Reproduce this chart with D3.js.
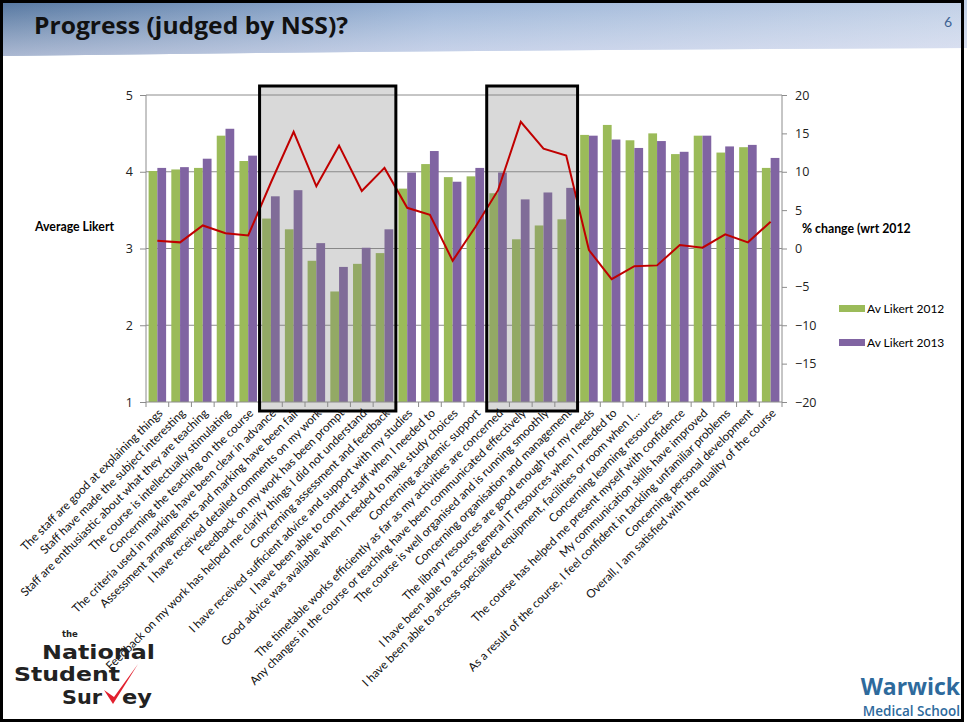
<!DOCTYPE html>
<html>
<head>
<meta charset="utf-8">
<script src="https://cdn.jsdelivr.net/npm/d3@7"></script>
<style>
  body { margin: 0; background: #fff; }
  svg { display: block; font-family: Lato, "Open Sans", sans-serif; }
</style>
</head>
<body>
<div id="chart"></div>
<script>
// chart data
var categories = [
  "The staff are good at explaining things",
  "Staff have made the subject interesting",
  "Staff are enthusiastic about what they are teaching",
  "The course is intellectually stimulating",
  "Concerning the teaching on the course",
  "The criteria used in marking have been clear in advance",
  "Assessment arrangements and marking have been fair",
  "I have received detailed comments on my work",
  "Feedback on my work has been prompt",
  "Feedback on my work has helped me clarify things I did not understand",
  "Concerning assessment and feedback",
  "I have received sufficient advice and support with my studies",
  "I have been able to contact staff when I needed to",
  "Good advice was available when I needed to make study choices",
  "Concerning academic support",
  "The timetable works efficiently as far as my activities are concerned",
  "Any changes in the course or teaching have been communicated effectively",
  "The course is well organised and is running smoothly",
  "Concerning organisation and management",
  "The library resources are good enough for my needs",
  "I have been able to access general IT resources when I needed to",
  "I have been able to access specialised equipment, facilities or room when I...",
  "Concerning learning resources",
  "The course has helped me present myself with confidence",
  "My communication skills have improved",
  "As a result of the course, I feel confident in tackling unfamiliar problems",
  "Concerning personal development",
  "Overall, I am satisfied with the quality of the course"
];
var likert2012 = [4.01, 4.03, 4.05, 4.47, 4.14, 3.39, 3.25, 2.84, 2.44, 2.80, 2.94, 3.78, 4.10, 3.93,
                  3.94, 3.72, 3.12, 3.30, 3.38, 4.48, 4.61, 4.41, 4.50, 4.23, 4.47, 4.25, 4.32, 4.05];
var likert2013 = [4.05, 4.06, 4.17, 4.56, 4.21, 3.68, 3.76, 3.07, 2.76, 3.01, 3.25, 3.99, 4.27, 3.87,
                  4.05, 3.99, 3.64, 3.73, 3.79, 4.47, 4.42, 4.31, 4.40, 4.26, 4.47, 4.33, 4.35, 4.18];
var pctChange = [1.0, 0.8, 3.0, 2.0, 1.7, 8.6, 15.2, 8.1, 13.4, 7.5, 10.5, 5.3, 4.4, -1.6,
                 2.8, 7.6, 16.5, 13.0, 12.1, -0.2, -4.0, -2.3, -2.2, 0.45, 0.1, 1.85, 0.8, 3.5];
var series = ["Av Likert 2012", "Av Likert 2013"];
var likertTicks = [1, 2, 3, 4, 5];
var pctTicks = [-20, -15, -10, -5, 0, 5, 10, 15, 20];
// highlighted groups (first and last category index)
var highlights = [[5, 10], [15, 18]];

var W = 967, H = 722;
var plot = {left: 146, right: 782, top: 95, bottom: 402};

var svg = d3.select("#chart").append("svg")
  .attr("width", W).attr("height", H);

// header band
var defs = svg.append("defs");
var grad = defs.append("linearGradient").attr("id", "hdr")
  .attr("x1", "0").attr("y1", "0").attr("x2", "1").attr("y2", "0");
grad.append("stop").attr("offset", "0").attr("stop-color", "#52749f");
grad.append("stop").attr("offset", "0.45").attr("stop-color", "#98b2d6");
grad.append("stop").attr("offset", "1").attr("stop-color", "#c0cfe6");
var gradV = defs.append("linearGradient").attr("id", "hdrV")
  .attr("x1", "0").attr("y1", "0").attr("x2", "0").attr("y2", "1");
gradV.append("stop").attr("offset", "0").attr("stop-color", "#ffffff").attr("stop-opacity", 0);
gradV.append("stop").attr("offset", "1").attr("stop-color", "#f2eefa").attr("stop-opacity", 0.55);

var hdrPath = "M0,0 L" + W + ",0 L" + W + ",48 Q" + (W / 2) + ",50 0,56 Z";
svg.append("path").attr("d", hdrPath).attr("fill", "url(#hdr)");
svg.append("path").attr("d", hdrPath).attr("fill", "url(#hdrV)");

svg.append("text")
  .attr("x", 34).attr("y", 34)
  .style("font-family", "'Open Sans', sans-serif")
  .style("font-weight", "bold").style("font-size", "23px")
  .attr("textLength", 314).attr("lengthAdjust", "spacingAndGlyphs")
  .attr("fill", "#111")
  .text("Progress (judged by NSS)?");

svg.append("text")
  .attr("x", 952).attr("y", 27)
  .attr("text-anchor", "end")
  .style("font-size", "14px").attr("fill", "#3e6394")
  .text("6");

// scales
var x = d3.scaleBand().domain(categories).range([plot.left, plot.right]).padding(0);
var xSub = d3.scaleBand().domain(series).range([2.6, x.bandwidth() - 2.6]).padding(0);
var y = d3.scaleLinear().domain([1, 5]).range([plot.bottom, plot.top]);
var y2 = d3.scaleLinear().domain([-20, 20]).range([plot.bottom, plot.top]);
var color = d3.scaleOrdinal().domain(series).range(["#9bbb59", "#8064a2"]);

// gridlines
svg.append("g").selectAll("line")
  .data(likertTicks.slice(1))
  .enter().append("line")
    .attr("x1", plot.left).attr("x2", plot.right)
    .attr("y1", function(d) { return y(d); })
    .attr("y2", function(d) { return y(d); })
    .attr("stroke", "#8c8c8c").attr("stroke-width", 1);

// bars
var rows = categories.map(function(c, i) {
  return {cat: c, vals: [likert2012[i], likert2013[i]]};
});
var groups = svg.append("g").selectAll("g")
  .data(rows).enter().append("g")
    .attr("transform", function(d) { return "translate(" + x(d.cat) + ",0)"; });
groups.selectAll("rect")
  .data(function(d) { return d.vals.map(function(v, j) { return {s: series[j], v: v}; }); })
  .enter().append("rect")
    .attr("x", function(d) { return xSub(d.s); })
    .attr("width", xSub.bandwidth())
    .attr("y", function(d) { return y(d.v); })
    .attr("height", function(d) { return y(1) - y(d.v); })
    .attr("fill", function(d) { return color(d.s); });

// highlight boxes (fill)
var boxes = highlights.map(function(h) {
  return {x0: x(categories[h[0]]), x1: x(categories[h[1]]) + x.bandwidth()};
});
svg.append("g").selectAll("rect")
  .data(boxes).enter().append("rect")
    .attr("x", function(d) { return d.x0; })
    .attr("width", function(d) { return d.x1 - d.x0; })
    .attr("y", plot.top - 9).attr("height", plot.bottom - plot.top + 18)
    .attr("fill", "#808080").attr("fill-opacity", 0.3);

// axes
var axisColor = "#8c8c8c";
svg.append("line")
  .attr("x1", plot.left).attr("x2", plot.right)
  .attr("y1", plot.bottom).attr("y2", plot.bottom)
  .attr("stroke", axisColor);
svg.append("line")
  .attr("x1", plot.left).attr("x2", plot.left)
  .attr("y1", plot.top).attr("y2", plot.bottom)
  .attr("stroke", axisColor);
svg.append("line")
  .attr("x1", plot.right).attr("x2", plot.right)
  .attr("y1", plot.top).attr("y2", plot.bottom)
  .attr("stroke", axisColor);

// x tick marks at band edges
var edges = categories.map(function(c) { return x(c); }).concat([plot.right]);
svg.append("g").selectAll("line")
  .data(edges).enter().append("line")
    .attr("x1", function(d) { return d; }).attr("x2", function(d) { return d; })
    .attr("y1", plot.bottom).attr("y2", plot.bottom + 5)
    .attr("stroke", axisColor);

var yAxis = svg.append("g")
  .attr("transform", "translate(" + plot.left + ",0)")
  .call(d3.axisLeft(y).tickValues(likertTicks).tickSize(6).tickPadding(7).tickFormat(d3.format("d")));
var y2Axis = svg.append("g")
  .attr("transform", "translate(" + plot.right + ",0)")
  .call(d3.axisRight(y2).tickValues(pctTicks).tickSize(5).tickPadding(8).tickFormat(d3.format("d")));
[yAxis, y2Axis].forEach(function(a) {
  a.select(".domain").remove();
  a.selectAll("line").attr("stroke", axisColor);
  a.selectAll("text").style("font-size", "12.5px").attr("fill", "#222")
    .style("font-family", "'Open Sans', sans-serif");
});

// % change line
var line = d3.line()
  .x(function(d, i) { return x(categories[i]) + x.bandwidth() / 2; })
  .y(function(d) { return y2(d); });
svg.append("path")
  .datum(pctChange)
  .attr("d", line)
  .attr("fill", "none")
  .attr("stroke", "#c00000")
  .attr("stroke-width", 2);

// highlight boxes (border)
svg.append("g").selectAll("rect")
  .data(boxes).enter().append("rect")
    .attr("x", function(d) { return d.x0; })
    .attr("width", function(d) { return d.x1 - d.x0; })
    .attr("y", plot.top - 9).attr("height", plot.bottom - plot.top + 18)
    .attr("fill", "none").attr("stroke", "#000").attr("stroke-width", 3);

// category labels
svg.append("g").selectAll("text")
  .data(categories).enter().append("text")
    .attr("transform", function(d) {
      return "translate(" + (x(d) + x.bandwidth() / 2 + 3) + "," + (plot.bottom + 9) + ") rotate(-45)";
    })
    .attr("text-anchor", "end")
    .attr("dy", "0.35em")
    .style("font-size", "11.7px")
    .attr("fill", "#111")
    .text(function(d) { return d; });

// axis titles
svg.append("text")
  .attr("x", 35).attr("y", 231)
  .style("font-weight", "bold").style("font-size", "12.3px")
  .text("Average Likert");
svg.append("text")
  .attr("x", 802).attr("y", 233)
  .style("font-weight", "bold").style("font-size", "12.3px")
  .text("% change (wrt 2012");

// legend
var legend = svg.append("g").selectAll("g")
  .data(series).enter().append("g")
    .attr("transform", function(d, i) { return "translate(839," + (309 + i * 34) + ")"; });
legend.append("rect")
  .attr("x", 0).attr("y", -4).attr("width", 26).attr("height", 7)
  .attr("fill", function(d) { return color(d); });
legend.append("text")
  .attr("x", 28).attr("y", 0).attr("dy", "0.35em")
  .style("font-size", "12px")
  .text(function(d) { return d; });

// NSS logo (text)
var nss = svg.append("g").style("font-family", "'DejaVu Sans', sans-serif").style("font-weight", "bold");
nss.append("text").attr("x", 62).attr("y", 637).style("font-size", "8.5px").attr("fill", "#222").text("the");
nss.append("text").attr("x", 42).attr("y", 659).style("font-size", "19px").attr("fill", "#222")
  .attr("textLength", 113).attr("lengthAdjust", "spacingAndGlyphs").text("National");
nss.append("text").attr("x", 14).attr("y", 681).style("font-size", "19px").attr("fill", "#222")
  .attr("textLength", 106).attr("lengthAdjust", "spacingAndGlyphs").text("Student");
nss.append("text").attr("x", 62).attr("y", 704).style("font-size", "19px").attr("fill", "#222")
  .attr("textLength", 40).attr("lengthAdjust", "spacingAndGlyphs").text("Sur");
nss.append("text").attr("x", 122).attr("y", 704).style("font-size", "19px").attr("fill", "#222")
  .attr("textLength", 30).attr("lengthAdjust", "spacingAndGlyphs").text("ey");
nss.append("path")
  .attr("d", "M104,690 L113,704 L138,664 L114,697 Z")
  .attr("fill", "#e2202e");

// Warwick logo (text)
svg.append("text").attr("x", 960).attr("y", 695).attr("text-anchor", "end")
  .style("font-family", "'Open Sans', sans-serif").style("font-weight", "bold")
  .style("font-size", "23px").attr("fill", "#2e6a9c").text("Warwick");
svg.append("text").attr("x", 960).attr("y", 716).attr("text-anchor", "end")
  .style("font-family", "'Open Sans', sans-serif").style("font-weight", "600")
  .style("font-size", "13.5px").attr("fill", "#2e6a9c").text("Medical School");

// slide border
svg.append("rect")
  .attr("x", 1.5).attr("y", 1.5).attr("width", W - 6).attr("height", H - 3)
  .attr("fill", "none").attr("stroke", "#000").attr("stroke-width", 3);
</script>
</body>
</html>
